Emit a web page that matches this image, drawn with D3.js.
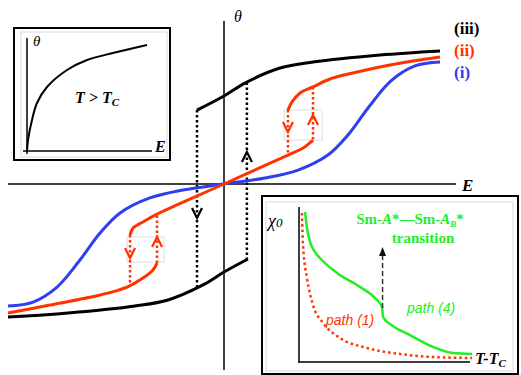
<!DOCTYPE html>
<html>
<head>
<meta charset="utf-8">
<script src="https://cdn.jsdelivr.net/npm/d3@7"></script>
<style>
  body { margin: 0; background: #fff; }
  text { font-family: "Liberation Serif", "Times New Roman", serif; }
</style>
</head>
<body>
<div id="chart"></div>
<script>
// main plot data (E, theta)
const blueI = [[-1,-0.813],[-0.884,-0.787],[-0.773,-0.687],[-0.667,-0.507],[-0.574,-0.327],[-0.481,-0.193],
  [-0.343,-0.093],[-0.19,-0.04],[0,0],[0.19,0.04],[0.343,0.093],[0.481,0.193],[0.574,0.327],[0.667,0.507],
  [0.773,0.687],[0.884,0.787],[1,0.813]];
const redUpper = [[0.296,0.493],[0.315,0.547],[0.352,0.607],[0.412,0.647],[0.491,0.7],[0.597,0.74],[0.722,0.78],[0.875,0.82],[1,0.847]];
const redMiddle = [[-0.435,-0.34],[-0.421,-0.293],[-0.375,-0.253],[-0.319,-0.207],[0,0],[0.296,0.193],[0.366,0.24],[0.412,0.293]];
const redLower = [[-1,-0.86],[-0.806,-0.807],[-0.574,-0.74],[-0.449,-0.687],[-0.375,-0.627],[-0.329,-0.573],[-0.31,-0.527]];
const blackUpper = [[-0.125,0.493],[0,0.587],[0.097,0.673],[0.259,0.773],[0.412,0.813],[0.722,0.86],[1,0.887]];
const blackLower = [[-1,-0.887],[-0.722,-0.86],[-0.412,-0.813],[-0.259,-0.773],[-0.097,-0.673],[0,-0.587],[0.111,-0.5]];

// dotted jumps: [E, theta from, theta to]
const redJumps = [[-0.435,-0.34,-0.66],[-0.31,-0.527,-0.207],[0.296,0.493,0.193],[0.412,0.647,0.293]];
const blackJumps = [[-0.125,0.493,-0.69],[0.106,0.676,-0.5]];
// chevrons: [E, theta of tip, direction]
const redArrows = [[-0.435,-0.493,"down"],[-0.31,-0.353,"up"],[0.296,0.347,"down"],[0.412,0.46,"up"]];
const blackArrows = [[-0.125,-0.227,"down"],[0.106,0.213,"up"]];
const greyBoxes = [[-0.449,-0.278,-0.353,-0.52],[0.278,0.454,0.493,0.293]];

// inset 1 (T > Tc)
const insetCurve = [[0,0],[0.008,0.105],[0.04,0.281],[0.08,0.43],[0.16,0.57],[0.32,0.719],[0.48,0.807],[0.688,0.868],[0.96,0.939]];

// inset 2 (chi0 vs T-Tc)
const path4 = [[0.035,0.968],[0.046,0.865],[0.064,0.774],[0.092,0.71],[0.121,0.671],[0.22,0.574],[0.353,0.484],
  [0.439,0.413],[0.48,0.355],[0.486,0.29],[0.543,0.232],[0.642,0.174],[0.775,0.097],[0.89,0.058],[1,0.052]];
const path1 = [[0.017,0.961],[0.023,0.755],[0.046,0.542],[0.081,0.368],[0.139,0.252],[0.237,0.155],[0.393,0.09],
  [0.584,0.052],[0.775,0.032],[1,0.026]];
const transitionArrow = [0.483, 0.348, 0.742];

const RED = "#ff3300", BLUE = "#2f3ff0", GREEN = "#22ee22", BLACK = "#000";

const W = 521, H = 375;
const svg = d3.select("#chart").append("svg")
  .attr("width", W).attr("height", H);

// ---- main plot ----
const x = d3.scaleLinear().domain([-1, 1]).range([8, 440]);
const y = d3.scaleLinear().domain([-1, 1]).range([334, 34]);
const line = d3.line().x(d => x(d[0])).y(d => y(d[1])).curve(d3.curveCatmullRom);

// axes
svg.append("line").attr("x1", x(-1)).attr("x2", 456).attr("y1", y(0)).attr("y2", y(0))
  .attr("stroke", BLACK).attr("stroke-width", 1.5);
svg.append("line").attr("x1", x(0)).attr("x2", x(0)).attr("y1", 21).attr("y2", 370)
  .attr("stroke", BLACK).attr("stroke-width", 1.5);
svg.append("text").attr("x", 462).attr("y", 191).attr("font-size", 17)
  .attr("font-weight", "bold").attr("font-style", "italic").text("E");
svg.append("text").attr("x", 234).attr("y", 22).attr("font-size", 16)
  .attr("font-style", "italic").text("θ");

// faint boxes around red arrows
svg.selectAll("rect.grey").data(greyBoxes).enter().append("rect")
  .attr("x", d => x(d[0])).attr("y", d => y(d[2]))
  .attr("width", d => x(d[1]) - x(d[0])).attr("height", d => y(d[3]) - y(d[2]))
  .attr("fill", "none").attr("stroke", "#d4d4d4").attr("stroke-width", 0.8);

// dotted jumps
function jumps(data, color) {
  svg.selectAll(null).data(data).enter().append("line")
    .attr("x1", d => x(d[0])).attr("x2", d => x(d[0]))
    .attr("y1", d => y(d[1])).attr("y2", d => y(d[2]))
    .attr("stroke", color).attr("stroke-width", 2.5).attr("stroke-dasharray", "2.5,2.5");
}
jumps(redJumps, RED);
jumps(blackJumps, BLACK);

function chevrons(data, color) {
  svg.selectAll(null).data(data).enter().append("path")
    .attr("d", d => {
      const cx = x(d[0]), cy = y(d[1]), s = d[2] === "down" ? -1 : 1;
      return `M${cx - 5},${cy + s * 10}L${cx},${cy}L${cx + 5},${cy + s * 10}`;
    })
    .attr("fill", "none").attr("stroke", color).attr("stroke-width", 2.2)
    .attr("stroke-linejoin", "miter");
}
chevrons(redArrows, RED);
chevrons(blackArrows, BLACK);

// curves
[[blueI, BLUE], [blackUpper, BLACK], [blackLower, BLACK],
 [redLower, RED], [redMiddle, RED], [redUpper, RED]].forEach(([d, c]) => {
  svg.append("path").datum(d).attr("d", line)
    .attr("fill", "none").attr("stroke", c).attr("stroke-width", 3);
});

// curve labels
[["(iii)", BLACK, 34], ["(ii)", RED, 56], ["(i)", BLUE, 78]].forEach(([t, c, yy]) => {
  svg.append("text").attr("x", 454).attr("y", yy).attr("font-size", 17)
    .attr("font-weight", "bold").attr("fill", c).text(t);
});

// ---- inset 1 ----
const g1 = svg.append("g");
g1.append("rect").attr("x", 14).attr("y", 28).attr("width", 156).attr("height", 132)
  .attr("fill", "#fff").attr("stroke", BLACK).attr("stroke-width", 2);
g1.append("rect").attr("x", 21).attr("y", 32).attr("width", 146).attr("height", 125)
  .attr("fill", "none").attr("stroke", "#cfcfcf").attr("stroke-width", 0.8);
const x1 = d3.scaleLinear().domain([0, 1]).range([27, 152]);
const y1 = d3.scaleLinear().domain([0, 1]).range([152, 38]);
g1.append("line").attr("x1", x1(0)).attr("x2", x1(0)).attr("y1", 38).attr("y2", 154)
  .attr("stroke", BLACK).attr("stroke-width", 1.5);
g1.append("line").attr("x1", 23).attr("x2", 152).attr("y1", 151).attr("y2", 151)
  .attr("stroke", BLACK).attr("stroke-width", 1.5);
g1.append("path").datum(insetCurve)
  .attr("d", d3.line().x(d => x1(d[0])).y(d => y1(d[1])).curve(d3.curveCatmullRom))
  .attr("fill", "none").attr("stroke", BLACK).attr("stroke-width", 2);
g1.append("text").attr("x", 33).attr("y", 46).attr("font-size", 15)
  .attr("font-style", "italic").text("θ");
g1.append("text").attr("x", 155).attr("y", 152).attr("font-size", 16)
  .attr("font-weight", "bold").attr("font-style", "italic").text("E");
const tt = g1.append("text").attr("x", 75).attr("y", 103).attr("font-size", 16)
  .attr("font-weight", "bold").attr("font-style", "italic");
tt.append("tspan").text("T > T");
tt.append("tspan").attr("font-size", 11).attr("dy", 3).text("C");

// ---- inset 2 ----
const g2 = svg.append("g");
g2.append("rect").attr("x", 262).attr("y", 196).attr("width", 256).attr("height", 178)
  .attr("fill", "#fff").attr("stroke", BLACK).attr("stroke-width", 2);
g2.append("rect").attr("x", 266).attr("y", 202).attr("width", 247).attr("height", 169)
  .attr("fill", "none").attr("stroke", "#cfcfcf").attr("stroke-width", 0.8);
const x2 = d3.scaleLinear().domain([0, 1]).range([299, 472]);
const y2 = d3.scaleLinear().domain([0, 1]).range([362, 207]);
g2.append("line").attr("x1", x2(0)).attr("x2", x2(0)).attr("y1", 207).attr("y2", 363)
  .attr("stroke", BLACK).attr("stroke-width", 1.5);
g2.append("line").attr("x1", x2(0)).attr("x2", 470).attr("y1", 362).attr("y2", 362)
  .attr("stroke", BLACK).attr("stroke-width", 1.5);
const line2 = d3.line().x(d => x2(d[0])).y(d => y2(d[1])).curve(d3.curveMonotoneX);
g2.append("path").datum(path1).attr("d", line2)
  .attr("fill", "none").attr("stroke", RED).attr("stroke-width", 2.5).attr("stroke-dasharray", "2.5,3");
g2.append("path").datum(path4).attr("d", line2)
  .attr("fill", "none").attr("stroke", GREEN).attr("stroke-width", 2.5);

// dashed transition arrow
const ax = x2(transitionArrow[0]);
g2.append("line").attr("x1", ax).attr("x2", ax)
  .attr("y1", y2(transitionArrow[1])).attr("y2", y2(transitionArrow[2]) + 7)
  .attr("stroke", "#333").attr("stroke-width", 1.5).attr("stroke-dasharray", "5,3");
g2.append("path")
  .attr("d", `M${ax},${y2(transitionArrow[2])}L${ax - 3.5},${y2(transitionArrow[2]) + 9}L${ax + 3.5},${y2(transitionArrow[2]) + 9}Z`)
  .attr("fill", "#111");

// labels
const chi = g2.append("text").attr("x", 268).attr("y", 227).attr("font-size", 18).attr("font-style", "italic");
chi.append("tspan").text("χ");
chi.append("tspan").attr("font-size", 13).attr("dy", 0).text("0");
const ttc = g2.append("text").attr("x", 475).attr("y", 364).attr("font-size", 16)
  .attr("font-weight", "bold").attr("font-style", "italic");
ttc.append("tspan").text("T-T");
ttc.append("tspan").attr("font-size", 11).attr("dy", 3).text("C");

const sm = g2.append("text").attr("x", 410).attr("y", 224).attr("font-size", 15)
  .attr("font-weight", "bold").attr("fill", GREEN).attr("text-anchor", "middle");
sm.append("tspan").text("Sm-");
sm.append("tspan").attr("font-style", "italic").text("A");
sm.append("tspan").text("*—Sm-");
sm.append("tspan").attr("font-style", "italic").text("A");
sm.append("tspan").attr("font-style", "italic").attr("font-size", 9).attr("dy", 3).text("B");
sm.append("tspan").attr("dy", -3).text("*");
g2.append("text").attr("x", 423).attr("y", 243).attr("font-size", 15)
  .attr("font-weight", "bold").attr("fill", GREEN).attr("text-anchor", "middle").text("transition");

g2.append("text").attr("x", 407).attr("y", 313).attr("font-size", 14)
  .attr("font-style", "italic").attr("fill", GREEN)
  .style("font-family", "'Liberation Sans', Arial, sans-serif").text("path (4)");
g2.append("text").attr("x", 326).attr("y", 325).attr("font-size", 14)
  .attr("font-style", "italic").attr("fill", RED)
  .style("font-family", "'Liberation Sans', Arial, sans-serif").text("path (1)");
</script>
</body>
</html>
